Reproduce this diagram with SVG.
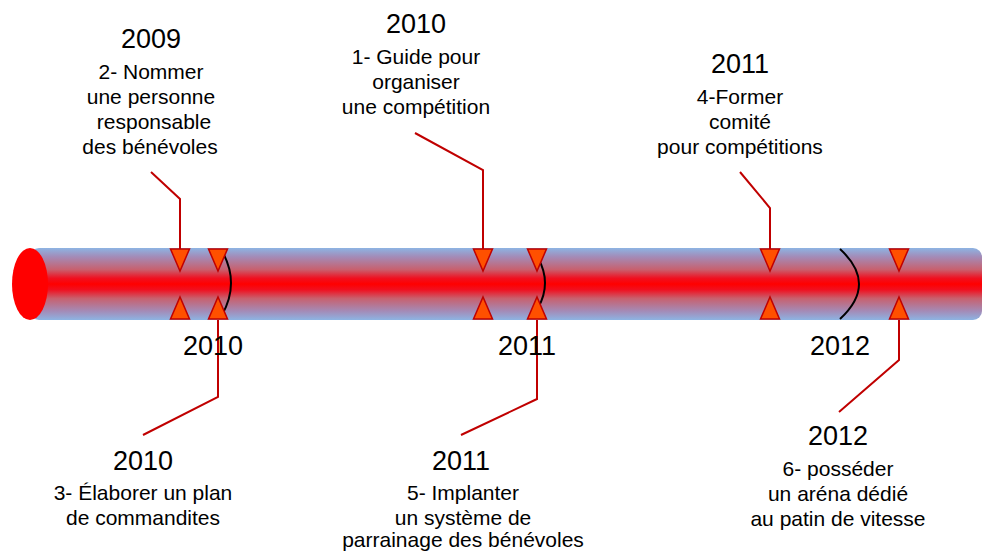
<svg xmlns="http://www.w3.org/2000/svg" width="982" height="552" viewBox="0 0 982 552">
<style>
text{font-family:"Liberation Sans",Arial,sans-serif;fill:#000;text-anchor:middle}
.y{font-size:27px}
.d{font-size:21px}
.tri{fill:#ff5000;stroke:#c00000;stroke-width:1.5;stroke-linejoin:miter}
.ln{fill:none;stroke:#c00000;stroke-width:2}
.arc{fill:none;stroke:#000;stroke-width:2}
</style>
<defs>
<linearGradient id="tube" x1="0" y1="0" x2="0" y2="1">
<stop offset="0" stop-color="#8db4e3"/>
<stop offset="0.12" stop-color="#a38cb8"/>
<stop offset="0.3" stop-color="#c8606e"/>
<stop offset="0.42" stop-color="#f01020"/>
<stop offset="0.5" stop-color="#ff0000"/>
<stop offset="0.58" stop-color="#f01020"/>
<stop offset="0.7" stop-color="#c8606e"/>
<stop offset="0.88" stop-color="#a38cb8"/>
<stop offset="1" stop-color="#8db4e3"/>
</linearGradient>
<path id="down" d="M-9.5,0 L9.5,0 L0,22 Z"/>
<path id="up" d="M-9.5,0 L9.5,0 L0,-22 Z"/>
</defs>
<g id="timeline">
<rect x="30" y="248" width="952" height="72" rx="9" fill="url(#tube)"/>
<ellipse cx="30" cy="284" rx="18" ry="36" fill="#ff0000"/>
<path class="arc" d="M222,251 Q240,283 222,315"/>
<path class="arc" d="M538,258 Q552,283 538,308"/>
<path class="arc" d="M840,249 Q878,284 840,319"/>
</g>
<g id="connectors">
<polyline class="ln" points="151,172 180,199 180,250"/>
<polyline class="ln" points="143,435 218,397 218,320"/>
<polyline class="ln" points="415,133 483,170 483,250"/>
<polyline class="ln" points="461,435 537,399 537,320"/>
<polyline class="ln" points="740,172 770,208 770,250"/>
<polyline class="ln" points="839,412 899,360 899,320"/>
</g>
<g id="markers">
<use href="#down" class="tri" x="180" y="249"/>
<use href="#up" class="tri" x="180" y="319"/>
<use href="#down" class="tri" x="218" y="249"/>
<use href="#up" class="tri" x="218" y="319"/>
<use href="#down" class="tri" x="483" y="249"/>
<use href="#up" class="tri" x="483" y="319"/>
<use href="#down" class="tri" x="537" y="249"/>
<use href="#up" class="tri" x="537" y="319"/>
<use href="#down" class="tri" x="770" y="249"/>
<use href="#up" class="tri" x="770" y="319"/>
<use href="#down" class="tri" x="899" y="249"/>
<use href="#up" class="tri" x="899" y="319"/>
</g>
<g id="axis-labels">
<text class="y" x="213" y="355">2010</text>
<text class="y" x="527" y="355">2011</text>
<text class="y" x="840" y="355">2012</text>
</g>
<g id="node-2009">
<text class="y" x="151" y="48">2009</text>
<text class="d" x="151" y="79">2- Nommer</text>
<text class="d" x="151" y="104">une personne</text>
<text class="d" x="154" y="129">responsable</text>
<text class="d" x="150" y="154">des bénévoles</text>
</g>
<g id="node-2010-top">
<text class="y" x="416" y="33">2010</text>
<text class="d" x="416" y="64">1- Guide pour</text>
<text class="d" x="416" y="89">organiser</text>
<text class="d" x="416" y="114">une compétition</text>
</g>
<g id="node-2011-top">
<text class="y" x="740" y="73">2011</text>
<text class="d" x="740" y="104">4-Former</text>
<text class="d" x="740" y="129">comité</text>
<text class="d" x="740" y="154">pour compétitions</text>
</g>
<g id="node-2010-bottom">
<text class="y" x="143" y="470">2010</text>
<text class="d" x="143" y="500">3- Élaborer un plan</text>
<text class="d" x="143" y="525">de commandites</text>
</g>
<g id="node-2011-bottom">
<text class="y" x="461" y="470">2011</text>
<text class="d" x="463" y="500">5- Implanter</text>
<text class="d" x="463" y="525">un système de</text>
<text class="d" x="463" y="547">parrainage des bénévoles</text>
</g>
<g id="node-2012-bottom">
<text class="y" x="838" y="445">2012</text>
<text class="d" x="838" y="476">6- posséder</text>
<text class="d" x="838" y="501">un aréna dédié</text>
<text class="d" x="838" y="526">au patin de vitesse</text>
</g>
</svg>
